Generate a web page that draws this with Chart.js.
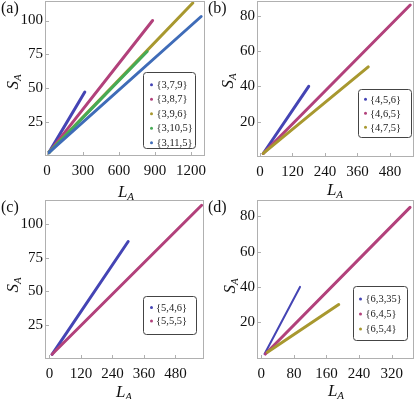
<!DOCTYPE html>
<html>
<head>
<meta charset="utf-8">
<script src="https://cdn.jsdelivr.net/npm/chart.js@4.4.1/dist/chart.umd.min.js"></script>
<style>
  body { margin: 0; background: #fff; }
  #wrap { position: relative; width: 415px; height: 399px; overflow: hidden; font-family: "Liberation Serif", serif; color: #111; }
  canvas { position: absolute; }
  .tag { position: absolute; font-size: 16px; line-height: 1; }
  .ax { position: absolute; font-size: 17px; font-style: italic; line-height: 1; white-space: nowrap; transform: translate(-50%, -50%); }
  .ax sub { font-size: 11px; vertical-align: -3px; }
  .rot { transform: translate(-50%, -50%) rotate(-90deg); }
</style>
</head>
<body>
<div id="wrap">
  <canvas id="ca" width="207" height="199" style="left:0;top:0"></canvas>
  <canvas id="cb" width="208" height="199" style="left:207px;top:0"></canvas>
  <canvas id="cc" width="207" height="200" style="left:0;top:199px"></canvas>
  <canvas id="cd" width="208" height="200" style="left:207px;top:199px"></canvas>

  <div class="tag" style="left:1px;top:0">(a)</div>
  <div class="tag" style="left:208px;top:0">(b)</div>
  <div class="tag" style="left:1px;top:199px">(c)</div>
  <div class="tag" style="left:208px;top:199px">(d)</div>

  <div class="ax rot" style="left:13px;top:82px">S<sub>A</sub></div>
  <div class="ax" style="left:126px;top:192px">L<sub>A</sub></div>
  <div class="ax rot" style="left:228px;top:81px">S<sub>A</sub></div>
  <div class="ax" style="left:335px;top:190px">L<sub>A</sub></div>
  <div class="ax rot" style="left:13px;top:285px">S<sub>A</sub></div>
  <div class="ax" style="left:124px;top:392px">L<sub>A</sub></div>
  <div class="ax rot" style="left:230px;top:286px">S<sub>A</sub></div>
  <div class="ax" style="left:336px;top:391px">L<sub>A</sub></div>
</div>
<script>
// panel (a)
var namesA = ['{3,7,9}', '{3,8,7}', '{3,9,6}', '{3,10,5}', '{3,11,5}'];
var lenA = [[15, 315], [15, 880], [15, 1215], [15, 835], [15, 1285]];
var entA = [[2, 47], [2, 100], [2, 113], [2, 77], [2, 103]];
var xTicksA = [0, 300, 600, 900, 1200];
var yTicksA = [25, 50, 75, 100];

// panel (b)
var namesB = ['{4,5,6}', '{4,6,5}', '{4,7,5}'];
var lenB = [[12, 180], [12, 555], [12, 400]];
var entB = [[2, 40], [2, 86], [2, 51]];
var xTicksB = [0, 120, 240, 360, 480];
var yTicksB = [20, 40, 60, 80];

// panel (c)
var namesC = ['{5,4,6}', '{5,5,5}'];
var lenC = [[10, 300], [10, 580]];
var entC = [[3, 87], [3, 114]];
var xTicksC = [0, 120, 240, 360, 480];
var yTicksC = [25, 50, 75, 100];

// panel (d)
var namesD = ['{6,3,35}', '{6,4,5}', '{6,5,4}'];
var lenD = [[8, 95], [10, 365], [15, 190]];
var entD = [[2, 40], [2, 85], [3, 30]];
var xTicksD = [0, 80, 160, 240, 320];
var yTicksD = [20, 40, 60, 80];

var colA = ['#4444b4', '#b2417b', '#a8982f', '#46ab56', '#3f6cb8'];
var colB = ['#4444b4', '#b2417b', '#a8982f'];

var serif = 'Liberation Serif';

// frame + inward ticks
var framePlugin = {
  id: 'frame',
  afterDraw: function(chart) {
    var ctx = chart.ctx, a = chart.chartArea;
    var xs = chart.scales.x, ys = chart.scales.y;
    ctx.save();
    ctx.strokeStyle = '#b0b0b0';
    ctx.lineWidth = 1;
    ctx.strokeRect(a.left + 0.5, a.top + 0.5, a.right - a.left - 1, a.bottom - a.top - 1);
    ctx.beginPath();
    xs.ticks.forEach(function(t) {
      var px = Math.round(xs.getPixelForValue(t.value)) + 0.5;
      ctx.moveTo(px, a.bottom);
      ctx.lineTo(px, a.bottom - 4);
    });
    ys.ticks.forEach(function(t) {
      var py = Math.round(ys.getPixelForValue(t.value)) + 0.5;
      ctx.moveTo(a.left, py);
      ctx.lineTo(a.left + 4, py);
    });
    ctx.stroke();
    ctx.restore();
  }
};

// boxed legend inside the plot
var boxLegend = {
  id: 'boxLegend',
  afterDraw: function(chart, args, o) {
    var ctx = chart.ctx;
    ctx.save();
    ctx.beginPath();
    ctx.roundRect(o.x + 0.5, o.y + 0.5, o.w, o.h, 3);
    ctx.fillStyle = '#fff';
    ctx.fill();
    ctx.strokeStyle = '#444';
    ctx.lineWidth = 1;
    ctx.stroke();
    ctx.font = '10.5px ' + serif;
    ctx.textBaseline = 'middle';
    chart.data.datasets.forEach(function(ds, i) {
      var y = o.y + o.row0 + i * o.dy;
      ctx.fillStyle = ds.borderColor;
      ctx.beginPath();
      ctx.arc(o.x + o.mx, y, 1.5, 0, Math.PI * 2);
      ctx.fill();
      ctx.fillStyle = '#222';
      ctx.fillText(ds.label, o.x + o.tx, y + 0.5);
    });
    ctx.restore();
  }
};

function plain(v) { return String(v); }

function makePanel(id, names, lens, ents, cols, xTicks, yTicks, c) {
  var datasets = names.map(function(n, i) {
    return {
      label: n,
      data: lens[i].map(function(l, k) { return { x: l, y: ents[i][k] }; }),
      borderColor: cols[i],
      backgroundColor: cols[i],
      borderWidth: c.widths ? c.widths[i] : 3,
      borderCapStyle: 'round',
      showLine: true,
      pointRadius: 0,
      order: names.length - i
    };
  });
  new Chart(document.getElementById(id), {
    type: 'scatter',
    data: { datasets: datasets },
    plugins: [framePlugin, boxLegend],
    options: {
      responsive: false,
      animation: false,
      layout: { padding: { top: c.top, right: c.right, left: 0, bottom: 0 } },
      plugins: {
        legend: { display: false },
        tooltip: { enabled: false },
        boxLegend: c.legend
      },
      scales: {
        x: {
          type: 'linear', min: c.xmin, max: c.xmax,
          border: { display: false },
          grid: { display: false, drawTicks: false },
          afterBuildTicks: function(s) { s.ticks = xTicks.map(function(v) { return { value: v }; }); },
          afterFit: function(s) { s.height = c.bottomH; s.paddingLeft = 0; s.paddingRight = 0; },
          ticks: { padding: 6, maxRotation: 0, autoSkip: false, color: '#111', callback: plain, font: { family: serif, size: 15 } }
        },
        y: {
          type: 'linear', min: c.ymin, max: c.ymax,
          border: { display: false },
          grid: { display: false, drawTicks: false },
          afterBuildTicks: function(s) { s.ticks = yTicks.map(function(v) { return { value: v }; }); },
          afterFit: function(s) { s.width = c.leftW; s.paddingTop = 0; s.paddingBottom = 0; },
          ticks: { padding: 2, autoSkip: false, color: '#111', callback: plain, font: { family: serif, size: 15 } }
        }
      }
    }
  });
}

makePanel('ca', namesA, lenA, entA, colA, xTicksA, yTicksA, {
  xmin: -17, xmax: 1317, ymin: -0.5, ymax: 114.5,
  leftW: 45, right: 2, top: 1, bottomH: 43,
  legend: { x: 143, y: 72, w: 52, h: 76, row0: 12.7, dy: 14.5, mx: 8.5, tx: 13.5 }
});
makePanel('cb', namesB, lenB, entB, colB, xTicksB, yTicksB, {
  xmin: -11, xmax: 569, ymin: 0, ymax: 88.3,
  leftW: 50, right: 1, top: 1, bottomH: 42,
  legend: { x: 151, y: 89, w: 53, h: 48, row0: 10.3, dy: 14, mx: 7.5, tx: 12 }
});
makePanel('cc', namesC, lenC, entC, colB, xTicksC, yTicksC, {
  xmin: -17, xmax: 589, ymin: -0.5, ymax: 117.9,
  leftW: 45, right: 3, top: 1, bottomH: 40,
  legend: { x: 143, y: 97, w: 53, h: 38, row0: 11.5, dy: 13.5, mx: 8.5, tx: 13 }
});
makePanel('cd', namesD, lenD, entD, colB, xTicksD, yTicksD, {
  xmin: -10.5, xmax: 374.7, ymin: -0.8, ymax: 89.2,
  leftW: 50, right: 1, top: 1, bottomH: 40, widths: [2, 3, 3],
  legend: { x: 146, y: 87, w: 54, h: 54, row0: 13, dy: 15, mx: 7.5, tx: 12.5 }
});
</script>
</body>
</html>
